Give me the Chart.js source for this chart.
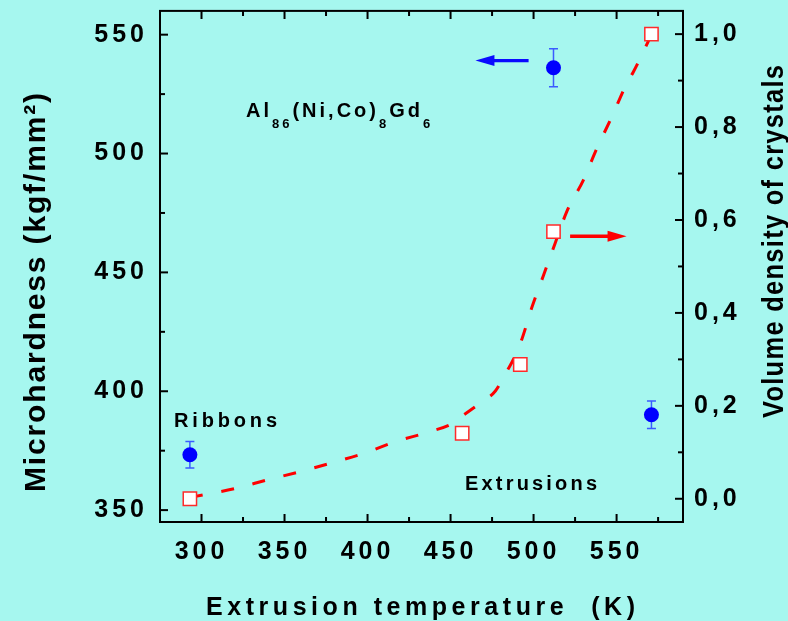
<!DOCTYPE html>
<html>
<head>
<meta charset="utf-8">
<script src="https://cdn.jsdelivr.net/npm/chart.js@4.4.1/dist/chart.umd.min.js"></script>
<style>
  body { margin: 0; background: #a6f7ef; }
  #wrap { width: 788px; height: 621px; }
</style>
</head>
<body>
<div id="wrap"><canvas id="chart" width="788" height="621"></canvas></div>
<script>
// microhardness, left axis
const hardT = [293, 512, 571];
const hardness = [373.3, 536.1, 390.1];
const hardErr = [5.6, 8, 5.8];

// volume density of crystals, right axis
const volT = [293, 457, 492, 512, 571];
const volDensity = [0.0, 0.141, 0.289, 0.575, 1.0];

// dashed guide curve
const fitT = [293, 320, 340, 359, 379, 398, 417, 437, 451, 457, 469, 477, 484, 488, 493, 499, 506, 513, 520, 530, 538, 547, 556, 560, 569, 571];
const fitV = [0.003, 0.022, 0.041, 0.058, 0.078, 0.098, 0.123, 0.144, 0.162, 0.178, 0.209, 0.232, 0.275, 0.301, 0.344, 0.412, 0.481, 0.550, 0.618, 0.686, 0.753, 0.821, 0.893, 0.918, 0.984, 1.0];

// ticks
const xMajor = [300, 350, 400, 450, 500, 550];
const xMinor = [325, 375, 425, 475, 525, 575];
const leftMajor = [350, 400, 450, 500, 550];
const leftMinor = [375, 425, 475, 525];
const rightMajor = [0, 0.2, 0.4, 0.6, 0.8, 1.0];
const rightMinor = [0.1, 0.3, 0.5, 0.7, 0.9];

// arrows pointing to the axis each series belongs to
const blueArrow = { x0: 497, x1: 465, y: 539.1 };
const redArrow = { x0: 522, x1: 556, y: 0.565 };

const FONT = '"Liberation Sans", Arial, sans-serif';

// text spread to a given width, like the original's wide lettering
function spacedText(ctx, str, x, y, size, width, squeeze, rot) {
  ctx.save();
  ctx.font = 'bold ' + size + 'px ' + FONT;
  ctx.letterSpacing = '0px';
  const w0 = ctx.measureText(str).width;
  const gap = (width - w0 * squeeze) / (str.length - 1);
  ctx.translate(x, y);
  ctx.rotate(rot || 0);
  ctx.scale(squeeze, 1);
  ctx.letterSpacing = (gap / squeeze) + 'px';
  ctx.textAlign = 'left';
  ctx.textBaseline = 'alphabetic';
  ctx.fillStyle = '#000';
  ctx.fillText(str, 0, 0);
  ctx.restore();
}

function drawArrow(ctx, x0, x1, y, color) {
  const dir = x1 > x0 ? 1 : -1;
  ctx.save();
  ctx.strokeStyle = color;
  ctx.fillStyle = color;
  ctx.lineWidth = 3.3;
  ctx.beginPath();
  ctx.moveTo(x0, y);
  ctx.lineTo(x1 - dir * 12, y);
  ctx.stroke();
  ctx.beginPath();
  ctx.moveTo(x1, y);
  ctx.lineTo(x1 - dir * 19, y - 5.5);
  ctx.lineTo(x1 - dir * 19, y + 5.5);
  ctx.closePath();
  ctx.fill();
  ctx.restore();
}

const errorBars = {
  id: 'errorBars',
  beforeDatasetsDraw(chart) {
    const ctx = chart.ctx;
    const x = chart.scales.x, y = chart.scales.y;
    ctx.save();
    ctx.strokeStyle = '#3b5bff';
    ctx.lineWidth = 1.5;
    hardT.forEach((t, i) => {
      const px = x.getPixelForValue(t);
      const top = y.getPixelForValue(hardness[i] + hardErr[i]);
      const bot = y.getPixelForValue(hardness[i] - hardErr[i]);
      ctx.beginPath();
      ctx.moveTo(px, top); ctx.lineTo(px, bot);
      ctx.moveTo(px - 4.5, top); ctx.lineTo(px + 4.5, top);
      ctx.moveTo(px - 4.5, bot); ctx.lineTo(px + 4.5, bot);
      ctx.stroke();
    });
    ctx.restore();
  }
};

const frame = {
  id: 'frame',
  beforeDraw(chart) {
    chart.ctx.letterSpacing = '4px';
  },
  afterDraw(chart) {
    const ctx = chart.ctx;
    const a = chart.chartArea;
    const x = chart.scales.x, y = chart.scales.y, y1 = chart.scales.y1;
    ctx.save();
    ctx.letterSpacing = '0px';
    ctx.strokeStyle = '#000';
    ctx.lineWidth = 2;
    ctx.strokeRect(a.left, a.top, a.right - a.left, a.bottom - a.top);

    const xt = (vals, len) => vals.forEach(v => {
      const p = x.getPixelForValue(v);
      ctx.beginPath();
      ctx.moveTo(p, a.bottom); ctx.lineTo(p, a.bottom - len);
      ctx.moveTo(p, a.top); ctx.lineTo(p, a.top + len);
      ctx.stroke();
    });
    const lt = (vals, len) => vals.forEach(v => {
      const p = y.getPixelForValue(v);
      ctx.beginPath();
      ctx.moveTo(a.left, p); ctx.lineTo(a.left + len, p);
      ctx.stroke();
    });
    const rt = (vals, len) => vals.forEach(v => {
      const p = y1.getPixelForValue(v);
      ctx.beginPath();
      ctx.moveTo(a.right, p); ctx.lineTo(a.right - len, p);
      ctx.stroke();
    });
    xt(xMajor, 8); xt(xMinor, 5);
    lt(leftMajor, 8); lt(leftMinor, 5);
    rt(rightMajor, 8); rt(rightMinor, 5);

    drawArrow(ctx, x.getPixelForValue(blueArrow.x0), x.getPixelForValue(blueArrow.x1), y.getPixelForValue(blueArrow.y), '#0a0aff');
    drawArrow(ctx, x.getPixelForValue(redArrow.x0), x.getPixelForValue(redArrow.x1), y1.getPixelForValue(redArrow.y), '#ff0000');

    // axis titles
    spacedText(ctx, 'Extrusion temperature  (K)', 206, 615, 25, 429, 1, 0);
    spacedText(ctx, 'Microhardness (kgf/mm²)', 45, 492, 30, 399, 1, -Math.PI / 2);
    spacedText(ctx, 'Volume density of crystals', 783, 418, 29, 353, 0.88, -Math.PI / 2);

    // labels inside the plot
    spacedText(ctx, 'Ribbons', 174, 427, 20, 103, 1, 0);
    spacedText(ctx, 'Extrusions', 465, 490, 20, 132, 1, 0);

    const formula = [['Al', 20, 0], ['86', 13, 11], ['(Ni,Co)', 20, 0], ['8', 13, 11], ['Gd', 20, 0], ['6', 13, 11]];
    let fx = 246;
    ctx.fillStyle = '#000';
    ctx.letterSpacing = '3px';
    formula.forEach(([s, size, dy]) => {
      ctx.font = 'bold ' + size + 'px ' + FONT;
      ctx.fillText(s, fx, 117 + dy);
      fx += ctx.measureText(s).width;
    });
    ctx.restore();
  }
};

const tickFont = { family: FONT, size: 25, weight: 'bold' };

new Chart(document.getElementById('chart'), {
  type: 'scatter',
  data: {
    datasets: [
      {
        label: 'Microhardness',
        data: hardT.map((t, i) => ({ x: t, y: hardness[i] })),
        yAxisID: 'y',
        pointRadius: 7.5,
        backgroundColor: '#0000ff',
        borderColor: '#0000ff',
        borderWidth: 0,
        order: 1
      },
      {
        label: 'Volume density',
        data: volT.map((t, i) => ({ x: t, y: volDensity[i] })),
        yAxisID: 'y1',
        pointStyle: 'rect',
        pointRadius: 9.4,
        backgroundColor: '#ffffff',
        borderColor: '#ff2a2a',
        borderWidth: 1.5,
        order: 2
      },
      {
        label: 'fit',
        data: fitT.map((t, i) => ({ x: t, y: fitV[i] })),
        yAxisID: 'y1',
        showLine: true,
        pointRadius: 0,
        borderColor: '#ff0000',
        borderWidth: 3,
        borderDash: [13, 19],
        cubicInterpolationMode: 'monotone',
        fill: false,
        order: 3
      }
    ]
  },
  options: {
    responsive: false,
    animation: false,
    layout: { padding: { top: 8, left: 0, right: 0, bottom: 0 } },
    plugins: { legend: { display: false }, tooltip: { enabled: false } },
    scales: {
      x: {
        type: 'linear', min: 275, max: 590,
        grid: { display: false }, border: { display: false },
        afterBuildTicks: s => { s.ticks = xMajor.map(v => ({ value: v })); },
        afterFit: s => { s.height = 99; s.paddingLeft = 0; s.paddingRight = 0; },
        ticks: { padding: 7, color: '#000', font: tickFont, maxRotation: 0, autoSkip: false }
      },
      y: {
        type: 'linear', position: 'left', min: 345, max: 560,
        grid: { display: false }, border: { display: false },
        afterBuildTicks: s => { s.ticks = leftMajor.map(v => ({ value: v })); },
        afterFit: s => { s.width = 160; s.paddingTop = 0; s.paddingBottom = 0; },
        ticks: { padding: 4, color: '#000', font: tickFont }
      },
      y1: {
        type: 'linear', position: 'right', min: -0.05, max: 1.05,
        grid: { display: false }, border: { display: false },
        afterBuildTicks: s => { s.ticks = rightMajor.map(v => ({ value: v })); },
        afterFit: s => { s.width = 105; s.paddingTop = 0; s.paddingBottom = 0; },
        ticks: { padding: 3, color: '#000', font: tickFont, callback: v => v.toFixed(1).replace('.', ',') }
      }
    }
  },
  plugins: [errorBars, frame]
});
</script>
</body>
</html>
